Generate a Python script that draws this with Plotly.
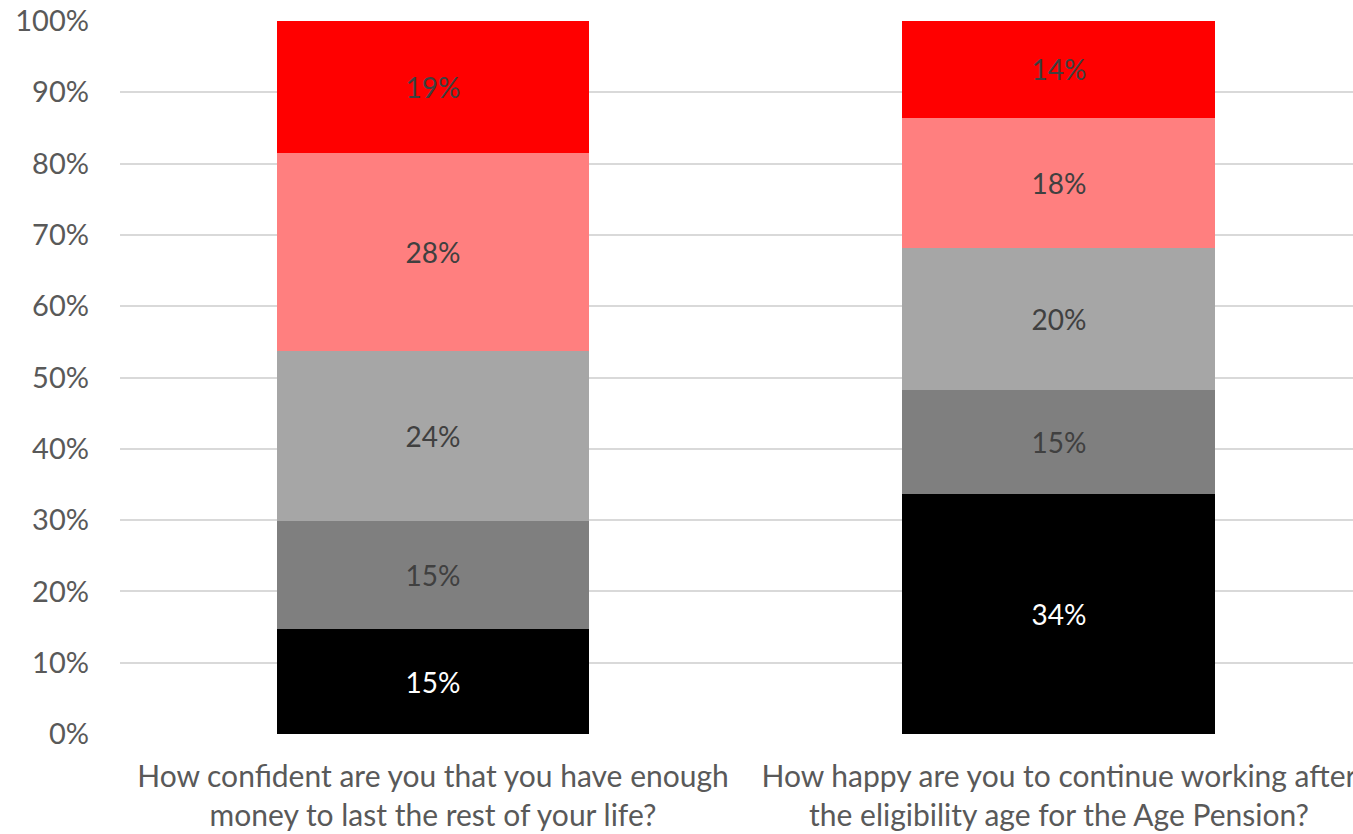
import plotly.graph_objects as go

# Survey questions (x categories)
questions = [
    "How confident are you that you have enough<br>money to last the rest of your life?",
    "How happy are you to continue working after<br>the eligibility age for the Age Pension?",
]

# Response shares (%), stacked from bottom to top
response_1 = [14.7, 33.6]
response_2 = [15.2, 14.6]
response_3 = [23.8, 19.9]
response_4 = [27.8, 18.3]
response_5 = [18.5, 13.6]

series = [
    ("Response 1", response_1, "#000000", "#FFFFFF"),
    ("Response 2", response_2, "#7F7F7F", "#404040"),
    ("Response 3", response_3, "#A6A6A6", "#404040"),
    ("Response 4", response_4, "#FF7F7F", "#404040"),
    ("Response 5", response_5, "#FF0000", "#404040"),
]

y_ticks = list(range(0, 101, 10))
y_tick_labels = [f"{v}%" for v in y_ticks]

FONT = "Lato"
x_pos = list(range(len(questions)))

fig = go.Figure()
for name, values, color, text_color in series:
    fig.add_trace(go.Bar(
        name=name,
        x=x_pos,
        y=values,
        width=0.5,
        marker=dict(color=color, line=dict(width=0)),
        texttemplate="%{y:.0f}%",
        textposition="inside",
        insidetextanchor="middle",
        textangle=0,
        constraintext="none",
        textfont=dict(family=FONT, size=28, color=text_color),
        hoverinfo="skip",
    ))

fig.update_layout(
    barmode="stack",
    width=1353,
    height=834,
    margin=dict(l=120, r=0, t=21, b=100),
    paper_bgcolor="white",
    plot_bgcolor="white",
    showlegend=False,
    font=dict(family=FONT, color="#595959"),
)

fig.update_xaxes(
    tickmode="array",
    tickvals=x_pos,
    ticktext=questions,
    range=[-0.5, 1.4697],
    showgrid=False,
    zeroline=False,
    showline=False,
    ticks="",
    automargin=False,
    ticklabeloverflow="allow",
    ticklabelstandoff=22,
    tickfont=dict(family=FONT, size=30, color="#595959"),
)

fig.update_yaxes(
    range=[0, 100],
    tickmode="array",
    tickvals=y_ticks,
    ticktext=y_tick_labels,
    showgrid=True,
    gridcolor="#D9D9D9",
    gridwidth=1.5,
    zeroline=False,
    showline=False,
    ticks="",
    automargin=False,
    ticklabelstandoff=30,
    tickfont=dict(family=FONT, size=29, color="#595959"),
)

fig.write_html("out.html")
